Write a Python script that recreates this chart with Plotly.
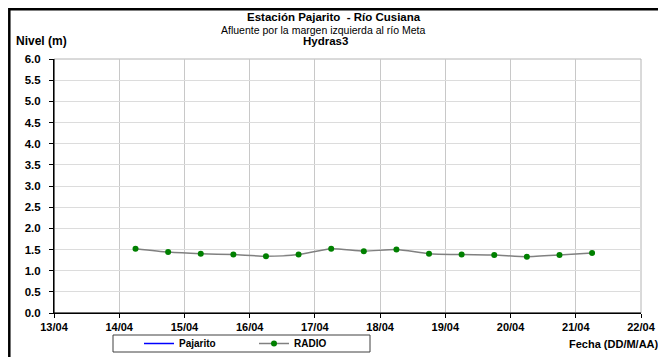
import plotly.graph_objects as go

fechas = ["2010-04-14 06:00", "2010-04-14 18:00", "2010-04-15 06:00", "2010-04-15 18:00",
          "2010-04-16 06:00", "2010-04-16 18:00", "2010-04-17 06:00", "2010-04-17 18:00",
          "2010-04-18 06:00", "2010-04-18 18:00", "2010-04-19 06:00", "2010-04-19 18:00",
          "2010-04-20 06:00", "2010-04-20 18:00", "2010-04-21 06:00"]
radio = [1.52, 1.44, 1.40, 1.38, 1.34, 1.38, 1.52, 1.46, 1.50, 1.40, 1.38, 1.37, 1.33, 1.37, 1.42]
pajarito_x = [None]
pajarito_y = [None]

FONT = "Liberation Sans, Arial, sans-serif"
OFF = 8  # page body margin
W, H = 666 - OFF, 357 - OFF
# plot area in reference pixel coordinates
PX0, PX1, PY0, PY1 = 54, 641, 59, 313
L, R, T, B = PX0 - OFF, 666 - PX1, PY0 - OFF, 357 - PY1
pw, ph = PX1 - PX0, PY1 - PY0

def px(x):
    return (x - PX0) / pw

def py(y):
    return (PY1 - y) / ph

fig = go.Figure()
fig.add_trace(go.Scatter(x=pajarito_x, y=pajarito_y, name="Pajarito", mode="lines",
                         line=dict(color="#0000ff", width=1.5)))
fig.add_trace(go.Scatter(x=fechas, y=radio, name="RADIO", mode="lines+markers",
                         line=dict(color="#808080", width=1.5, shape="spline", smoothing=0.6),
                         marker=dict(color="#008000", size=6)))

fig.update_layout(
    width=W, height=H,
    margin=dict(l=L, r=R, t=T, b=B, autoexpand=False),
    paper_bgcolor="white", plot_bgcolor="white",
    font=dict(family=FONT, color="black"),
    showlegend=True,
    legend=dict(orientation="h", x=px(139), xanchor="left", y=py(343.5), yanchor="middle",
                borderwidth=0, bgcolor="rgba(0,0,0,0)",
                font=dict(size=10, weight="bold", family=FONT),
                entrywidthmode="pixels", entrywidth=70,
                tracegroupgap=0),
    xaxis=dict(type="date", range=["2010-04-13", "2010-04-22"], dtick=86400000,
               tick0="2010-04-13", tickformat="%d/%m",
               showgrid=True, gridcolor="#c8c8c8", gridwidth=1,
               showline=True, linecolor="black", linewidth=1,
               ticks="outside", ticklen=4, tickcolor="black", automargin=False,
               tickfont=dict(size=11, weight="bold", family=FONT), zeroline=False),
    yaxis=dict(range=[0, 6], dtick=0.5, tick0=0, tickformat=".1f",
               showgrid=True, gridcolor="#dcdcdc", gridwidth=1,
               showline=True, linecolor="black", linewidth=1,
               ticks="outside", ticklen=4, tickcolor="black", automargin=False,
               ticklabelstandoff=6,
               tickfont=dict(size=11.5, weight="bold", family=FONT), zeroline=False),
)

# grey frame on top/right of plot area
fig.add_shape(type="rect", xref="paper", yref="paper", x0=0, x1=1, y0=0, y1=1,
              line=dict(color="#b4b4b4", width=1), layer="below")
fig.add_shape(type="line", xref="paper", yref="paper", x0=0, x1=0, y0=0, y1=1,
              line=dict(color="black", width=1))
fig.add_shape(type="line", xref="paper", yref="paper", x0=0, x1=1, y0=0, y1=0,
              line=dict(color="black", width=1))
# legend box
fig.add_shape(type="rect", xref="paper", yref="paper",
              x0=px(113), x1=px(370), y0=py(335), y1=py(352),
              line=dict(color="#404040", width=1), layer="below")
# outer black border
fig.add_shape(type="rect", xref="paper", yref="paper",
              x0=px(9.3), x1=px(700), y0=py(9.3), y1=py(400),
              line=dict(color="black", width=2.5))

ann = dict(xref="paper", yref="paper", showarrow=False, yanchor="middle")
fig.add_annotation(text="<b>Estación Pajarito  - Río Cusiana</b>", x=px(334), y=py(17),
                   xanchor="center", font=dict(size=11.5, family=FONT), **ann)
fig.add_annotation(text="Afluente por la margen izquierda al río Meta", x=px(323), y=py(30),
                   xanchor="center", font=dict(size=10.5, family=FONT), **ann)
fig.add_annotation(text="<b>Hydras3</b>", x=px(325), y=py(41),
                   xanchor="center", font=dict(size=11.5, family=FONT), **ann)
fig.add_annotation(text="<b>Nivel (m)</b>", x=px(14), y=py(41),
                   xanchor="left", font=dict(size=12, family=FONT), **ann)
fig.add_annotation(text="<b>Fecha (DD/M/AA)</b>", x=px(661), y=py(344),
                   xanchor="right", font=dict(size=11, family=FONT), **ann)

fig.write_html("out.html")
